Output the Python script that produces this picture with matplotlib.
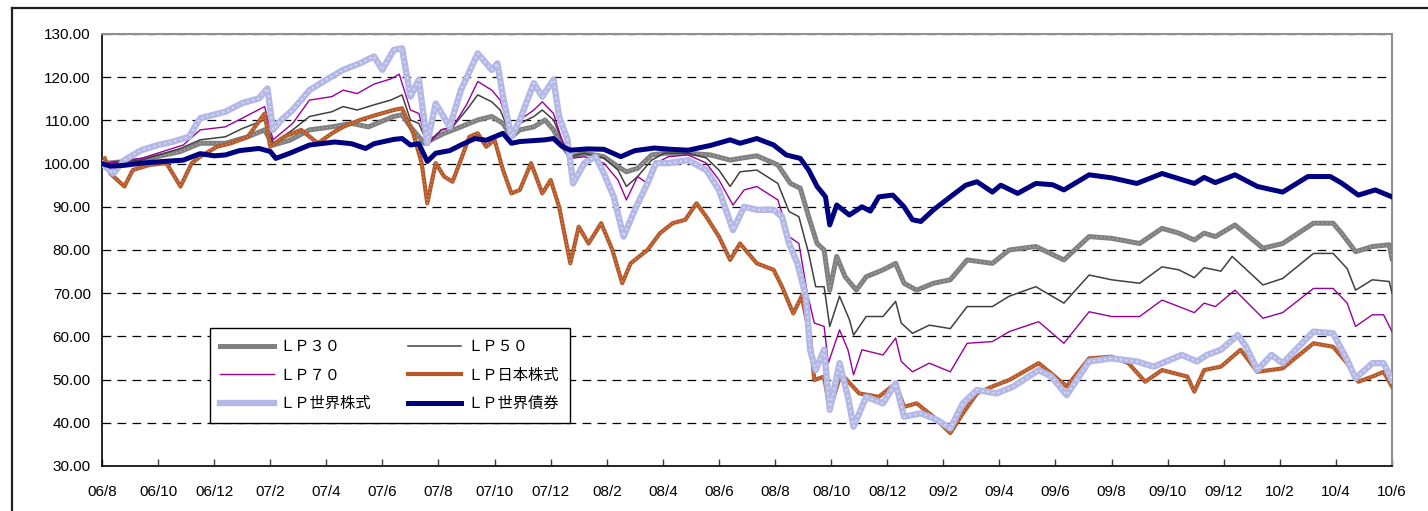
import numpy as np
import matplotlib
matplotlib.use('Agg')
import matplotlib.pyplot as plt
from matplotlib.lines import Line2D

plt.rcParams['font.family'] = ['Liberation Sans', 'DejaVu Sans']
plt.rcParams['font.size'] = 11

# x positions are months since 2006/08
tick_labels = ['06/8', '06/10', '06/12', '07/2', '07/4', '07/6', '07/8', '07/10', '07/12',
               '08/2', '08/4', '08/6', '08/8', '08/10', '08/12', '09/2', '09/4', '09/6',
               '09/8', '09/10', '09/12', '10/2', '10/4', '10/6']

bond_m = [0, 0.3, 0.8, 1.4, 2.2, 2.9, 3.5, 4.0, 4.4, 4.9, 5.6, 6.0, 6.2, 6.7, 7.4, 8.3, 8.9, 9.4, 9.7,
          10.4, 10.7, 11.0, 11.3, 11.6, 11.9, 12.4, 12.8, 13.3, 13.7, 14.3, 14.6, 14.9, 15.8, 16.1,
          16.4, 16.7, 17.3, 17.9, 18.5, 19.0, 19.7, 20.3, 20.9, 21.7, 22.4, 22.75, 23.35, 23.95,
          24.4, 24.9, 25.2, 25.5, 25.8, 25.95, 26.2, 26.65, 27.1, 27.4, 27.7, 28.2, 28.6, 28.9,
          29.2, 29.65, 30.25, 30.8, 31.2, 31.75, 32.05, 32.65, 33.3, 33.9, 34.3, 35.2, 36.0, 36.9,
          37.8, 38.4, 38.95, 39.3, 39.7, 40.4, 41.2, 42.1, 43.0, 43.8, 44.2, 44.8, 45.4, 46.0]
bond_v = [100, 99.4, 99.6, 100.1, 100.5, 100.8, 102.3, 101.8, 102.0, 103.0, 103.5, 102.8, 101.2,
          102.4, 104.3, 105.0, 104.6, 103.5, 104.6, 105.6, 105.8, 104.3, 104.6, 100.5, 102.4,
          103.0, 104.3, 105.8, 105.4, 107.0, 104.7, 105.1, 105.5, 105.8, 104.0, 103.1, 103.4,
          103.3, 101.6, 103.0, 103.6, 103.3, 103.1, 104.2, 105.5, 104.7, 105.8, 104.3, 102.0,
          101.2, 98.5, 94.7, 92.3, 85.8, 90.4, 88.1, 90.0, 89.0, 92.3, 92.7, 90.0, 87.0, 86.6,
          89.3, 92.3, 95.0, 95.8, 93.4, 95.0, 93.1, 95.4, 95.1, 93.9, 97.4, 96.7, 95.4, 97.7,
          96.5, 95.4, 96.8, 95.6, 97.4, 94.7, 93.4, 97.0, 97.0, 95.5, 92.7, 93.9, 92.3]

lp30_m = [0, 1.4, 2.8, 3.5, 4.4, 5.2, 5.8, 6.1, 6.7, 7.4, 8.2, 8.9, 9.5, 10.4, 10.7, 11.0, 11.5,
          12.2, 12.8, 13.4, 13.9, 14.3, 14.6, 14.9, 15.4, 15.8, 16.1, 16.4, 16.7, 17.2, 17.9, 18.4,
          18.7, 19.1, 19.6, 20.05, 20.9, 21.7, 22.4, 22.75, 23.35, 24.1, 24.55, 24.9, 25.2, 25.5,
          25.75, 25.95, 26.2, 26.5, 26.9, 27.25, 27.85, 28.3, 28.6, 29.05, 29.65, 30.25, 30.85,
          31.75, 32.35, 33.3, 34.3, 35.2, 36.0, 37.0, 37.8, 38.4, 38.95, 39.3, 39.7, 40.4, 41.4,
          42.1, 43.2, 43.9, 44.2, 44.7, 45.3, 45.9, 46.0]
lp30_v = [100, 100.8, 102.8, 104.7, 104.7, 106.2, 107.8, 104.3, 105.4, 107.8, 108.5, 109.3, 108.5,
          110.9, 111.3, 108.5, 104.7, 107.0, 108.5, 110.1, 110.9, 109.3, 106.2, 107.8, 108.5, 110.1,
          107.8, 104.3, 101.6, 102.4, 101.6, 99.3, 98.1, 98.9, 102.0, 102.4, 102.4, 102.0, 100.8,
          101.2, 101.8, 99.7, 95.4, 94.3, 87.7, 81.5, 80.0, 70.7, 78.5, 73.8, 70.7, 73.8, 75.4,
          76.9, 72.3, 70.7, 72.3, 73.1, 77.7, 76.9, 80.0, 80.8, 77.7, 83.1, 82.7, 81.5, 85.0, 83.9,
          82.3, 83.9, 83.1, 85.8, 80.4, 81.5, 86.2, 86.2, 83.9, 79.6, 80.8, 81.2, 78.0]

lp50_m = [0, 1.4, 2.8, 3.5, 4.4, 5.0, 5.8, 6.1, 6.8, 7.4, 8.2, 8.6, 9.1, 9.7, 10.3, 10.7, 11.0,
          11.3, 11.6, 12.1, 12.5, 13.0, 13.4, 13.9, 14.2, 14.6, 14.9, 15.4, 15.7, 16.1, 16.4, 16.7,
          17.2, 17.9, 18.4, 18.7, 19.1, 19.6, 20.05, 20.9, 21.55, 22.0, 22.4, 22.75, 23.35, 24.1,
          24.5, 24.85, 25.2, 25.45, 25.75, 25.95, 26.3, 26.65, 26.8, 27.25, 27.85, 28.3, 28.5, 28.9,
          29.5, 30.25, 30.85, 31.75, 32.35, 33.3, 34.3, 35.2, 36.0, 37.0, 37.8, 38.4, 38.95, 39.3,
          39.9, 40.3, 41.4, 42.1, 43.2, 43.9, 44.4, 44.7, 45.3, 45.9, 46.0]
lp50_v = [100, 100.8, 103.5, 105.5, 106.2, 108.1, 110.1, 104.7, 107.8, 110.9, 112.0, 113.2, 112.4,
          113.6, 114.7, 115.9, 110.1, 109.3, 104.7, 107.8, 108.5, 112.4, 115.9, 114.3, 112.4, 106.2,
          109.3, 110.9, 112.4, 110.1, 105.5, 101.6, 102.4, 101.3, 98.5, 94.7, 97.0, 100.8, 102.4,
          102.4, 101.3, 98.5, 94.7, 98.1, 98.5, 95.4, 88.9, 87.7, 79.2, 71.5, 71.5, 62.3, 69.3,
          63.9, 60.3, 64.6, 64.6, 68.1, 63.1, 60.7, 62.6, 61.8, 66.9, 66.9, 69.3, 71.5, 67.7, 74.2,
          73.1, 72.3, 76.1, 75.4, 73.6, 75.9, 75.1, 78.5, 71.9, 73.4, 79.2, 79.2, 75.7, 70.7, 73.1,
          72.7, 70.0]

lp70_m = [0, 1.4, 2.9, 3.5, 4.4, 5.0, 5.8, 6.1, 6.8, 7.4, 8.2, 8.6, 9.1, 9.7, 10.3, 10.6, 11.0,
          11.3, 11.6, 12.1, 12.5, 13.0, 13.4, 13.9, 14.2, 14.6, 14.9, 15.4, 15.7, 16.1, 16.4, 16.7,
          17.2, 17.9, 18.4, 18.7, 19.1, 19.45, 19.75, 20.2, 20.9, 21.55, 22.0, 22.5, 22.9, 23.35,
          24.1, 24.5, 24.85, 25.15, 25.4, 25.75, 25.9, 26.3, 26.6, 26.8, 27.1, 27.85, 28.3, 28.5,
          28.9, 29.5, 30.25, 30.85, 31.75, 32.35, 33.4, 34.3, 35.2, 36.0, 37.0, 37.8, 38.4, 38.95,
          39.3, 39.7, 40.4, 41.4, 42.1, 43.2, 43.9, 44.4, 44.7, 45.3, 45.7, 46.0]
lp70_v = [100, 101.2, 104.3, 107.8, 108.5, 110.5, 113.2, 105.5, 109.3, 114.7, 115.5, 117.0, 116.2,
          118.4, 119.6, 120.7, 112.4, 111.6, 104.3, 107.8, 108.5, 113.6, 119.0, 117.0, 114.7, 106.2,
          110.1, 112.4, 114.3, 111.6, 105.5, 101.2, 101.6, 100.1, 96.2, 91.6, 97.0, 95.4, 100.1,
          101.6, 102.0, 100.1, 96.2, 90.4, 93.9, 94.7, 91.6, 83.1, 81.5, 70.0, 63.1, 62.3, 53.8,
          61.5, 56.9, 51.1, 56.9, 55.7, 59.6, 54.2, 51.8, 53.8, 51.8, 58.4, 58.8, 61.1, 63.4, 58.4,
          65.7, 64.6, 64.6, 68.4, 66.9, 65.5, 67.7, 66.9, 70.7, 64.2, 65.5, 71.1, 71.1, 67.7, 62.3,
          65.0, 65.0, 61.1]

jp_m = [0.1, 0.3, 0.8, 1.1, 1.7, 2.3, 2.8, 3.2, 3.5, 4.1, 4.6, 5.2, 5.8, 6.0, 6.5, 7.1, 7.7, 8.2,
        8.6, 9.2, 9.8, 10.4, 10.7, 11.1, 11.4, 11.6, 11.9, 12.2, 12.5, 12.8, 13.1, 13.4, 13.7, 14.0,
        14.3, 14.6, 14.9, 15.3, 15.7, 16.0, 16.3, 16.7, 17.0, 17.35, 17.8, 18.2, 18.55, 18.85, 19.45,
        19.9, 20.35, 20.8, 21.2, 21.55, 22.0, 22.4, 22.75, 23.35, 23.95, 24.25, 24.65, 24.95, 25.25,
        25.4, 25.75, 25.95, 26.35, 27.0, 27.7, 28.3, 28.6, 29.05, 29.65, 30.25, 30.7, 31.2, 31.75,
        32.35, 33.4, 33.85, 34.4, 35.2, 36.0, 36.6, 37.2, 37.8, 38.7, 38.95, 39.3, 39.9, 40.6, 41.2,
        42.1, 43.2, 43.9, 44.4, 44.8, 45.3, 45.7, 46.0]
jp_v = [101.2, 97.7, 94.7, 98.5, 99.7, 100.1, 94.7, 100.1, 101.6, 103.9, 104.7, 106.2, 111.6,
        103.9, 106.2, 107.8, 104.7, 107.0, 108.5, 110.1, 111.3, 112.4, 112.8, 107.0, 100.1, 90.8,
        100.1, 97.0, 95.8, 100.9, 106.2, 107.0, 103.9, 105.5, 98.5, 93.1, 93.9, 100.1, 93.1, 96.2,
        90.0, 76.9, 85.4, 81.5, 86.2, 80.0, 72.3, 76.9, 80.0, 83.9, 86.2, 87.0, 90.8, 87.7, 83.1,
        77.7, 81.5, 76.9, 75.4, 71.5, 65.3, 69.3, 60.0, 49.9, 50.7, 43.0, 51.4, 46.8, 46.0, 49.1,
        43.7, 44.5, 41.4, 37.6, 42.2, 46.8, 48.4, 49.9, 53.8, 51.4, 48.4, 54.9, 55.3, 53.8, 49.5,
        52.2, 50.7, 47.2, 52.2, 53.0, 56.9, 51.8, 52.6, 58.4, 57.6, 53.8, 49.5, 50.7, 51.8, 48.4]

wld_m = [0, 0.4, 0.8, 1.4, 2.0, 2.5, 3.1, 3.5, 4.4, 5.0, 5.6, 5.9, 6.1, 6.4, 6.8, 7.4, 8.0, 8.6,
         9.2, 9.7, 10.0, 10.4, 10.7, 11.0, 11.3, 11.6, 11.9, 12.4, 12.8, 13.4, 13.9, 14.1, 14.3,
         14.6, 14.9, 15.4, 15.7, 16.1, 16.3, 16.6, 16.8, 17.2, 17.6, 17.9, 18.25, 18.6, 19.0, 19.45,
         19.75, 20.2, 20.9, 21.55, 22.0, 22.5, 22.9, 23.35, 23.95, 24.25, 24.5, 24.8, 25.1, 25.25,
         25.45, 25.75, 25.95, 26.3, 26.6, 26.8, 27.25, 27.85, 28.3, 28.6, 29.2, 29.8, 30.25, 30.7,
         31.2, 31.9, 32.5, 33.4, 33.85, 34.4, 35.2, 36.0, 36.9, 37.5, 38.5, 39.05, 39.4, 39.9, 40.5,
         40.8, 41.2, 41.7, 42.1, 43.2, 43.9, 44.4, 44.7, 45.3, 45.7, 46.0]
wld_v = [100, 97.7, 100.8, 103.1, 104.3, 105.0, 106.2, 110.5, 112.0, 114.0, 115.1, 117.4, 107.8,
         110.1, 112.4, 117.0, 119.4, 121.7, 123.2, 124.8, 121.7, 126.3, 126.7, 115.5, 119.4, 104.7,
         113.9, 108.5, 117.0, 125.5, 121.7, 123.2, 115.5, 106.2, 110.1, 118.6, 115.5, 119.4, 110.9,
         105.5, 95.4, 100.1, 101.6, 97.7, 92.3, 83.1, 89.3, 95.4, 100.1, 100.1, 100.8, 98.5, 93.9,
         84.6, 90.0, 89.3, 89.3, 87.7, 81.5, 76.9, 69.2, 56.9, 52.2, 56.9, 43.0, 53.8, 46.0, 39.1,
         46.0, 44.5, 49.1, 41.4, 42.2, 40.6, 38.7, 44.5, 47.6, 46.8, 48.4, 52.2, 50.7, 46.4, 54.2,
         54.9, 54.2, 53.0, 55.7, 54.2, 55.7, 56.9, 60.3, 57.6, 52.2, 55.7, 53.8, 61.1, 60.7, 54.6,
         50.3, 53.8, 53.8, 49.9]

fig = plt.figure(figsize=(14.28, 5.11), dpi=100)
ax = fig.add_axes([0.0714, 0.0881, 0.9034, 0.8454])

l30, = ax.plot(lp30_m, lp30_v, color='#808080', lw=3.6, zorder=3)
ax.plot(lp30_m, lp30_v, color='#A6A6A6', lw=1.0, ls=(0, (1, 2)), zorder=3)
l50, = ax.plot(lp50_m, lp50_v, color='#404040', lw=1.1, zorder=4)
l70, = ax.plot(lp70_m, lp70_v, color='#990099', lw=1.0, zorder=5)
ljp, = ax.plot(jp_m, jp_v, color='#B5582A', lw=3.0, zorder=6)
ax.plot(jp_m, jp_v, color='#D99068', lw=0.9, ls=(0, (1, 2)), zorder=6)
lwd, = ax.plot(wld_m, wld_v, color='#B4B8E6', lw=4.6, zorder=7)
ax.plot(wld_m, wld_v, color='#DCDEF4', lw=1.3, ls=(0, (1, 2)), zorder=7)
lbd, = ax.plot(bond_m, bond_v, color='#000080', lw=3.6, zorder=8)

ax.set_xlim(0, 46)
ax.set_ylim(30, 130)
ax.set_yticks(np.arange(30, 131, 10))
ax.yaxis.set_major_formatter(matplotlib.ticker.FormatStrFormatter('%.2f'))
ax.set_xticks(np.arange(0, 47, 2))
ax.set_xticklabels(tick_labels)
ax.tick_params(axis='y', length=0, pad=8, labelsize=11)
ax.tick_params(axis='x', direction='in', length=5, width=1, pad=14, labelsize=11, color='#404040')
ax.grid(axis='y', color='black', ls=(0, (7, 5)), lw=0.9)
ax.set_axisbelow(True)
for side in ['left', 'bottom']:
    ax.spines[side].set_color('black')
    ax.spines[side].set_linewidth(1.2)
for side in ['top', 'right']:
    ax.spines[side].set_color('#909090')
    ax.spines[side].set_linewidth(1.5)

handles = [l30, l70, lwd, l50, ljp, lbd]
labels = ['ＬＰ３０', 'ＬＰ７０', 'ＬＰ世界株式', 'ＬＰ５０', 'ＬＰ日本株式', 'ＬＰ世界債券']
leg = ax.legend(handles, labels, ncol=2, loc='upper left', bbox_to_anchor=(0.0775, 0.338),
                prop={'family': ['Noto Sans CJK JP', 'DejaVu Sans'], 'size': 11},
                fancybox=False, framealpha=1, edgecolor='black', handlelength=3.5,
                handletextpad=0.4, columnspacing=2.4, labelspacing=0.75, borderpad=0.7)
leg.get_frame().set_linewidth(1.0)
leg.set_zorder(10)

# outer frame of the chart area (cut off at right and bottom)
fig.add_artist(Line2D([0.0084, 1.0], [0.9843, 0.9843], color='#202020', lw=1.6))
fig.add_artist(Line2D([0.0084, 0.0084], [0.0, 0.9843], color='#202020', lw=1.6))

fig.savefig('out.png', dpi=100)
